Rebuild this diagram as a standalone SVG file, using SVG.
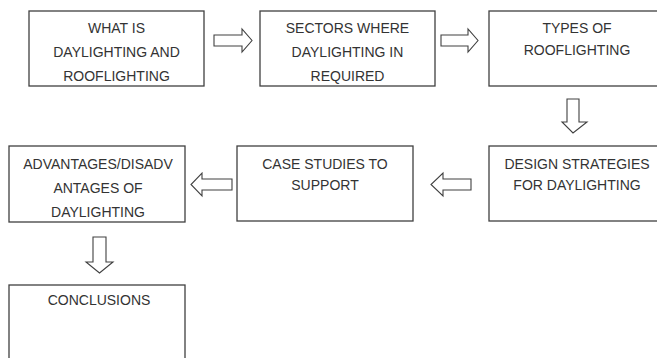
<svg xmlns="http://www.w3.org/2000/svg" width="657" height="358" viewBox="0 0 657 358">
<style>
.box{fill:#fff;stroke:#404040;stroke-width:1.3}
.arr{fill:#fff;stroke:#404040;stroke-width:1.1;stroke-linejoin:miter}
text{font-family:"Liberation Sans",Arial,sans-serif;font-size:14px;fill:#333;text-anchor:middle}
</style>
<rect width="657" height="358" fill="#fff"/>
<g id="n1"><rect class="box" x="29" y="11" width="175" height="75"/>
<text x="116.5" y="33">WHAT IS</text><text x="116.5" y="57">DAYLIGHTING AND</text><text x="116.5" y="81">ROOFLIGHTING</text></g>
<g id="n2"><rect class="box" x="260" y="11" width="175" height="75"/>
<text x="347.5" y="33">SECTORS WHERE</text><text x="347.5" y="57">DAYLIGHTING IN</text><text x="347.5" y="81">REQUIRED</text></g>
<g id="n3"><rect class="box" x="489" y="11" width="176" height="75"/>
<text x="577" y="33">TYPES OF</text><text x="577" y="55">ROOFLIGHTING</text></g>
<g id="n4"><rect class="box" x="489" y="146" width="176" height="75"/>
<text x="577" y="169">DESIGN STRATEGIES</text><text x="577" y="190">FOR DAYLIGHTING</text></g>
<g id="n5"><rect class="box" x="237" y="146" width="176" height="75"/>
<text x="325" y="169">CASE STUDIES TO</text><text x="325" y="190">SUPPORT</text></g>
<g id="n6"><rect class="box" x="9" y="146" width="176" height="76"/>
<text x="98" y="169">ADVANTAGES/DISADV</text><text x="98" y="193">ANTAGES OF</text><text x="98" y="217">DAYLIGHTING</text></g>
<g id="n7"><rect class="box" x="9" y="285" width="176" height="80"/>
<text x="99" y="305">CONCLUSIONS</text></g>
<g id="connectors">
<polygon class="arr" points="214,35 242,35 242,29 252,40.5 242,52 242,46 214,46"/>
<polygon class="arr" points="441,35 468,35 468,29 478,40.5 468,52 468,46 441,46"/>
<polygon class="arr" points="567,99 579,99 579,122 587,122 573,133 562,122 567,122"/>
<polygon class="arr" points="471,179 443,179 443,173 431,184.5 443,196 443,190 471,190"/>
<polygon class="arr" points="232,179 202,179 202,173 191,184.5 202,196 202,190 232,190"/>
<polygon class="arr" points="93,237 106,237 106,262 113,262 99.5,273 86,262 93,262"/>
</g>
</svg>
